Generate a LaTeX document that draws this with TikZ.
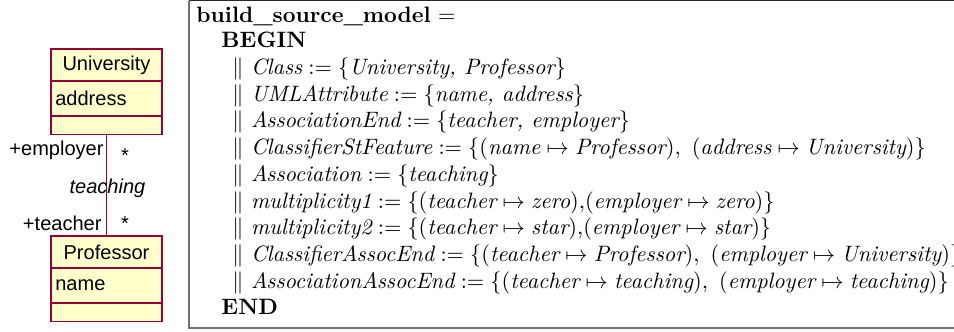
\documentclass[tikz,border=0pt]{standalone}
\usepackage{fontspec}
\newfontfamily\umlfont{Liberation Sans}
\usetikzlibrary{positioning}
\definecolor{umlfill}{RGB}{255,255,204}
\definecolor{umlline}{RGB}{153,0,51}
\tikzset{
  classpart/.style={draw=umlline, fill=umlfill, line width=0.6pt, minimum width=49.9pt,
    inner sep=0pt, outer sep=0pt, font=\umlfont\fontsize{9}{10}\selectfont},
  classname/.style={classpart, minimum height=14.4pt},
  classattr/.style={classpart, minimum height=15.7pt, text width=46pt, align=left},
  classops/.style={classpart, minimum height=8.4pt},
  rolelbl/.style={inner sep=0pt, font=\umlfont\fontsize{9}{10}\selectfont},
  assoclbl/.style={inner sep=0pt, font=\umlfont\itshape\fontsize{9}{10}\selectfont},
  defline/.style={anchor=base west, inner sep=0pt},
}
\begin{document}
\begin{tikzpicture}[x=0.449pt, y=-0.449pt]
      \useasboundingbox (0,0) rectangle (954,331);
      \draw[black!55, line width=0.5pt] (189,0.6) -- (189,328) -- (960,328);
      \draw[black!85, line width=0.6pt] (189,0.6) -- (960,0.6);

      \node[classname, anchor=north] (univ) at (106.5,49) {University};
      \node[classattr, below=0pt of univ] (univattr) {address};
      \node[classops, below=0pt of univattr] (univops) {};
      \node[classname, anchor=north] (prof) at (106.5,236) {Professor};
      \node[classattr, below=0pt of prof] (profattr) {name};
      \node[classops, below=0pt of profattr] (profops) {};
      \begin{scope}[umlline, line width=0.5pt]
        \draw (univops.south) -- (prof.north);
      \end{scope}
      \node[rolelbl, anchor=base east] (employer) at (104,155) {+employer};
      \node[rolelbl, anchor=base] (employermult) at (125,162) {*};
      \node[assoclbl, anchor=base] (teaching) at (107.5,193) {teaching};
      \node[rolelbl, anchor=base east] (teacher) at (102,230) {+teacher};
      \node[rolelbl, anchor=base] (teachermult) at (125,230) {*};

      \node[defline] (title) at (196,22) {\textbf{build\_source\_model} $=$};
      \node[defline] (begin) at (221,47.8) {\textbf{BEGIN}};
      \node[defline] (l1) at (232,74.5) {$\|\ \textit{Class} := \{\textit{University, Professor}\}$};
      \node[defline] (l2) at (232,101.2) {$\|\ \textit{UMLAttribute} := \{\textit{name, address}\}$};
      \node[defline] (l3) at (232,127.9) {$\|\ \textit{AssociationEnd} := \{\textit{teacher, employer}\}$};
      \node[defline] (l4) at (232,154.6) {$\|\ \textit{ClassifierStFeature} := \{(\textit{name} \mapsto \textit{Professor}),\ (\textit{address} \mapsto \textit{University})\}$};
      \node[defline] (l5) at (232,181.3) {$\|\ \textit{Association} := \{\textit{teaching}\}$};
      \node[defline] (l6) at (232,208) {$\|\ \textit{multiplicity1} := \{(\textit{teacher} \mapsto \textit{zero}){,}(\textit{employer} \mapsto \textit{zero})\}$};
      \node[defline] (l7) at (232,234.7) {$\|\ \textit{multiplicity2} := \{(\textit{teacher} \mapsto \textit{star}){,}(\textit{employer} \mapsto \textit{star})\}$};
      \node[defline] (l8) at (232,261.4) {$\|\ \textit{ClassifierAssocEnd} := \{(\textit{teacher} \mapsto \textit{Professor}),\ (\textit{employer} \mapsto \textit{University})\}$};
      \node[defline] (l9) at (232,288.1) {$\|\ \textit{AssociationAssocEnd} := \{(\textit{teacher} \mapsto \textit{teaching}),\ (\textit{employer} \mapsto \textit{teaching})\}$};
      \node[defline] (end) at (221,314.8) {\textbf{END}};
    \end{tikzpicture}
\end{document}
